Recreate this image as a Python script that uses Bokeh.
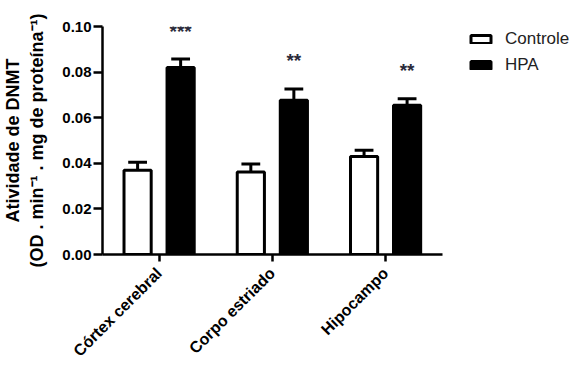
import math
from bokeh.plotting import figure
from bokeh.models import (Range1d, FixedTicker, PrintfTickFormatter,
                          ColumnDataSource, Legend, LegendItem)
from bokeh.core.properties import value
from bokeh.embed import file_html
from bokeh.resources import INLINE

categories = ["Córtex cerebral", "Corpo estriado", "Hipocampo"]
controle = [0.0370, 0.0362, 0.0430]
controle_err = [0.0035, 0.0035, 0.0027]
hpa = [0.0820, 0.0676, 0.0655]
hpa_err = [0.0037, 0.0050, 0.0028]
signif = ["***", "**", "**"]
y_ticks = [0.00, 0.02, 0.04, 0.06, 0.08, 0.10]

FONT = "Liberation Sans"
OFF = 0.19
BW = 0.24
CAP = 0.083

centers = [i + 0.5 for i in range(len(categories))]
xc = [c - OFF for c in centers]
xh = [c + OFF for c in centers]

src = ColumnDataSource(dict(
    xc=xc, xh=xh,
    xc0=[x - CAP for x in xc], xc1=[x + CAP for x in xc],
    xh0=[x - CAP for x in xh], xh1=[x + CAP for x in xh],
    c=controle,
    c_top=[v + e for v, e in zip(controle, controle_err)],
    h=hpa,
    h_top=[v + e for v, e in zip(hpa, hpa_err)],
    star_y=[v + e + 0.0123 for v, e in zip(hpa, hpa_err)],
    stars=signif,
))

n = len(categories)
# frame runs to the right edge so the legend (inside the frame) is not clipped
x_end = n * (575 - 96) / (440 - 96)

p = figure(width=575, height=368, x_range=Range1d(0, x_end),
           y_range=Range1d(0, 0.10), output_backend="svg", toolbar_location=None,
           min_border_left=96, min_border_right=0, min_border_top=26,
           min_border_bottom=112)
p.outline_line_color = None
p.xgrid.grid_line_color = None
p.ygrid.grid_line_color = None

r_c = p.vbar(x="xc", top="c", width=BW, bottom=0, source=src,
             fill_color="white", line_color="black", line_width=3)
r_h = p.vbar(x="xh", top="h", width=BW, bottom=0, source=src,
             fill_color="black", line_color="black", line_width=3)

for xs, x0, x1, base, top in [("xc", "xc0", "xc1", "c", "c_top"),
                              ("xh", "xh0", "xh1", "h", "h_top")]:
    p.segment(x0=xs, y0=base, x1=xs, y1=top, source=src,
              line_color="black", line_width=3)
    p.segment(x0=x0, y0=top, x1=x1, y1=top, source=src,
              line_color="black", line_width=3)

p.text(x="xh", y="star_y", text="stars", source=src,
       text_align="center", text_baseline="alphabetic", text_font=value(FONT),
       text_font_size="19px", text_font_style="bold", text_color="#2a2a3a")

# axes
for ax in (p.xaxis[0], p.yaxis[0]):
    ax.axis_line_width = 2.5
    ax.axis_line_color = "black"
    ax.major_tick_line_width = 2.5
    ax.major_tick_line_color = "black"
    ax.major_tick_in = 0
    ax.minor_tick_line_color = None
    ax.major_label_text_font = FONT
    ax.major_label_text_font_style = "bold"
    ax.major_label_text_color = "black"

p.yaxis.major_tick_out = 9
p.yaxis.ticker = FixedTicker(ticks=y_ticks)
p.yaxis.formatter = PrintfTickFormatter(format="%.2f")
p.yaxis.major_label_text_font_size = "15px"
p.yaxis.major_label_standoff = 2
p.yaxis.axis_label = "Atividade de DNMT\n(OD . min\u207b\u00b9 . mg de prote\u00edna\u207b\u00b9)"
p.yaxis.axis_label_text_font = FONT
p.yaxis.axis_label_text_font_style = "bold"
p.yaxis.axis_label_text_font_size = "18px"
p.yaxis.axis_label_text_color = "black"
p.yaxis.axis_label_standoff = 12

p.xaxis.major_tick_out = 7
p.xaxis.bounds = (0, n)
p.xaxis.ticker = FixedTicker(ticks=centers)
p.xaxis.major_label_overrides = {c: lab for c, lab in zip(centers, categories)}
p.xaxis.major_label_orientation = math.pi / 4
p.xaxis.major_label_text_font_size = "16px"
p.xaxis.major_label_standoff = 9

legend = Legend(items=[LegendItem(label="Controle", renderers=[r_c]),
                       LegendItem(label="HPA", renderers=[r_h])],
                location=(366, 179), orientation="vertical",
                border_line_color=None, background_fill_alpha=0,
                glyph_width=25, glyph_height=10, label_height=20,
                label_text_font=FONT, label_text_font_size="17px",
                label_text_color="#222222",
                spacing=6, padding=0, margin=0, label_standoff=12)
p.add_layout(legend, "center")

open("out.html", "w").write(file_html(p, INLINE))
